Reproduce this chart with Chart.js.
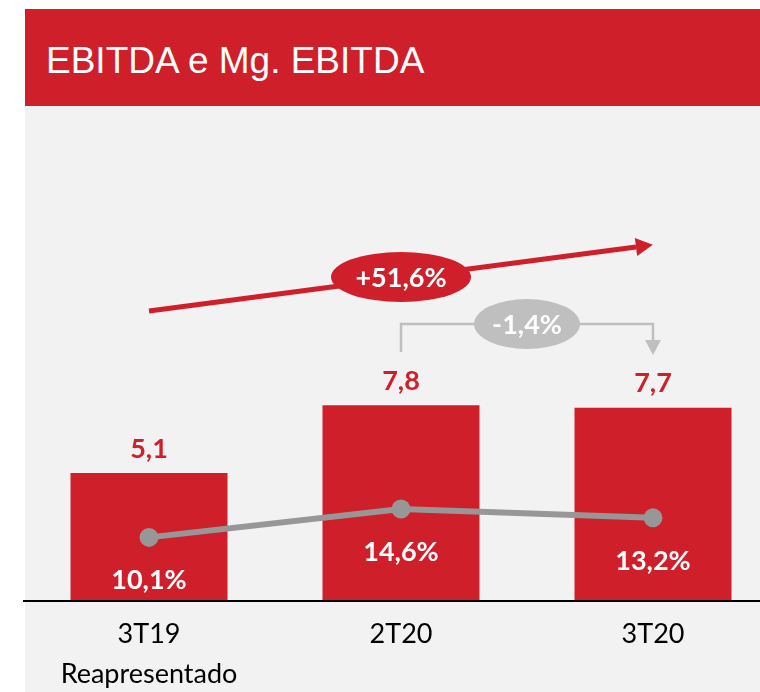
<!DOCTYPE html>
<html>
<head>
<meta charset="utf-8">
<script src="https://cdn.jsdelivr.net/npm/chart.js@4.4.1/dist/chart.umd.min.js"></script>
<style>
  html, body { margin: 0; padding: 0; background: #ffffff; width: 760px; height: 692px; overflow: hidden; }
  #panel { position: absolute; left: 25px; top: 9px; width: 735px; height: 683px; background: #F2F2F2; }
  #header { position: absolute; left: 0; top: 0; width: 735px; height: 97px; background: #CE1F2B; }
  #title { position: absolute; left: 21px; top: 33px; color: #ffffff; font-family: "Liberation Sans", Arial, sans-serif; font-size: 37px; line-height: 37px; white-space: nowrap; }
  #wrap { position: absolute; left: 17px; top: 106px; width: 762px; height: 586px; }
</style>
</head>
<body>
<div id="panel"><div id="header"><div id="title">EBITDA e Mg. EBITDA</div></div></div>
<div id="wrap"><canvas id="c" width="762" height="586"></canvas></div>
<script>
// ---- data ----
const categories = [['3T19', 'Reapresentado'], '2T20', '3T20'];
const ebitda = [5.1, 7.8, 7.7];
const ebitdaLabels = ['5,1', '7,8', '7,7'];
const margin = [10.1, 14.6, 13.2];
const marginLabels = ['10,1%', '14,6%', '13,2%'];
const growthLabel = '+51,6%';
const changeLabel = '-1,4%';

const RED = '#CE1F2B';
const GRAY_LINE = '#979797';
const GRAY_LIGHT = '#BFBFBF';

const overlay = {
  id: 'overlay',
  afterDatasetsDraw(chart) {
    const ctx = chart.ctx;
    const area = chart.chartArea;
    const x = chart.scales.x;
    ctx.save();
    ctx.strokeStyle = '#000000';
    ctx.lineWidth = 2;
    ctx.beginPath();
    ctx.moveTo(6, area.bottom);
    ctx.lineTo(chart.width, area.bottom);
    ctx.stroke();

    const barMeta = chart.getDatasetMeta(0);
    const lineMeta = chart.getDatasetMeta(1);
    ctx.textAlign = 'center';
    ctx.textBaseline = 'middle';
    ctx.font = 'bold 27px Lato, "Open Sans", sans-serif';
    barMeta.data.forEach((el, i) => {
      ctx.fillStyle = RED;
      ctx.fillText(ebitdaLabels[i], el.x, el.y - 24);
    });
    lineMeta.data.forEach((el, i) => {
      ctx.fillStyle = '#ffffff';
      ctx.fillText(marginLabels[i], el.x, el.y + 43);
    });

    const p0 = x.getPixelForValue(0), p1 = x.getPixelForValue(1), p2 = x.getPixelForValue(2);

    // red growth arrow
    const ax0 = p0, ay0 = 205, ax1 = p2 - 17, ay1 = 141;
    ctx.strokeStyle = RED;
    ctx.lineWidth = 5;
    ctx.beginPath();
    ctx.moveTo(ax0, ay0);
    ctx.lineTo(ax1, ay1);
    ctx.stroke();
    const ang = Math.atan2(ay1 - ay0, ax1 - ax0);
    const tipX = ax1 + Math.cos(ang) * 17, tipY = ay1 + Math.sin(ang) * 17;
    ctx.fillStyle = RED;
    ctx.beginPath();
    ctx.moveTo(tipX, tipY);
    ctx.lineTo(ax1 + Math.cos(ang + Math.PI / 2) * 9, ay1 + Math.sin(ang + Math.PI / 2) * 9);
    ctx.lineTo(ax1 + Math.cos(ang - Math.PI / 2) * 9, ay1 + Math.sin(ang - Math.PI / 2) * 9);
    ctx.closePath();
    ctx.fill();
    ctx.beginPath();
    ctx.ellipse(p1, 171, 70, 25, 0, 0, Math.PI * 2);
    ctx.fill();
    ctx.fillStyle = '#ffffff';
    ctx.fillText(growthLabel, p1, 172);

    // gray bracket
    ctx.strokeStyle = GRAY_LIGHT;
    ctx.lineWidth = 2.5;
    ctx.beginPath();
    ctx.moveTo(p1, 246);
    ctx.lineTo(p1, 218);
    ctx.lineTo(p2, 218);
    ctx.lineTo(p2, 236);
    ctx.stroke();
    ctx.fillStyle = GRAY_LIGHT;
    ctx.beginPath();
    ctx.moveTo(p2 - 8, 234);
    ctx.lineTo(p2 + 8, 234);
    ctx.lineTo(p2, 249);
    ctx.closePath();
    ctx.fill();
    ctx.beginPath();
    ctx.ellipse((p1 + p2) / 2, 218, 53, 25, 0, 0, Math.PI * 2);
    ctx.fill();
    ctx.fillStyle = '#ffffff';
    ctx.fillText(changeLabel, (p1 + p2) / 2, 219);
    ctx.restore();
  }
};

new Chart(document.getElementById('c'), {
  data: {
    labels: categories,
    datasets: [
      {
        type: 'bar',
        data: ebitda,
        backgroundColor: RED,
        borderWidth: 0,
        barPercentage: 0.623,
        categoryPercentage: 1,
        yAxisID: 'y',
        order: 2
      },
      {
        type: 'line',
        data: margin,
        borderColor: GRAY_LINE,
        backgroundColor: GRAY_LINE,
        borderWidth: 6,
        pointRadius: 9.5,
        pointHoverRadius: 9.5,
        pointBackgroundColor: GRAY_LINE,
        pointBorderWidth: 0,
        tension: 0,
        yAxisID: 'y1',
        order: 1
      }
    ]
  },
  options: {
    responsive: false,
    animation: false,
    devicePixelRatio: 1,
    layout: { autoPadding: false, padding: { left: 6, right: 0, top: 0, bottom: 0 } },
    plugins: { legend: { display: false }, tooltip: { enabled: false }, title: { display: false } },
    scales: {
      x: {
        type: 'category',
        offset: true,
        grid: { display: false, drawTicks: false },
        border: { display: false },
        ticks: {
          color: '#000000',
          padding: 13,
          maxRotation: 0,
          autoSkip: false,
          font: { family: 'Lato, "Open Sans", sans-serif', size: 27, lineHeight: 1.5 }
        },
        afterFit(scale) { scale.height = 91; scale.paddingLeft = 0; scale.paddingRight = 0; }
      },
      y: { display: false, min: 0, max: 19.72 },
      y1: { display: false, min: 0, max: 78.6, position: 'right' }
    }
  },
  plugins: [overlay]
});
</script>
</body>
</html>
